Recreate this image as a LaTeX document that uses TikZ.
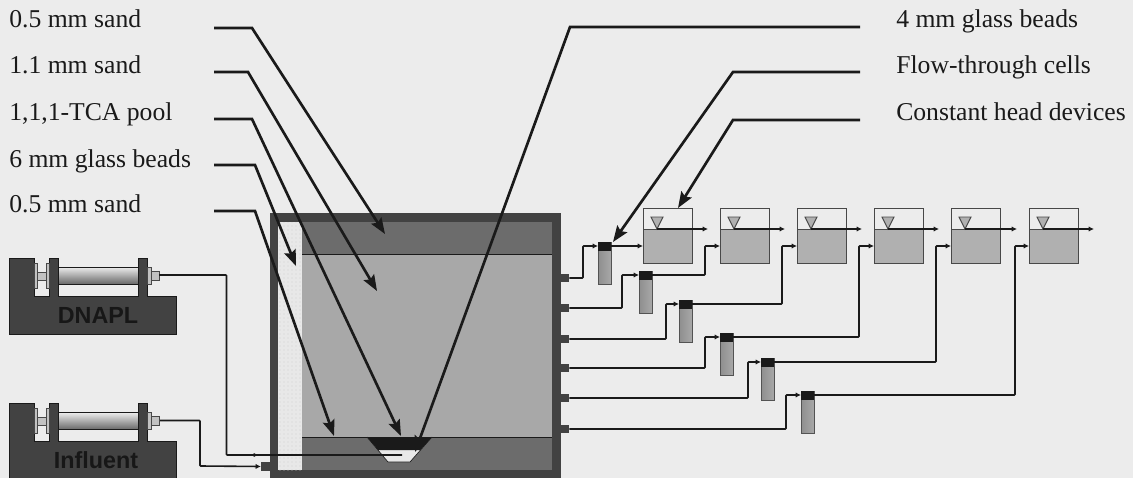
\documentclass[tikz,border=0pt]{standalone}
\usepackage{fontspec}
\setmainfont{Liberation Serif}
\newfontfamily\pumpfont{Liberation Sans}
\usetikzlibrary{arrows.meta,patterns}
\definecolor{paper}{HTML}{ECECEC}
\definecolor{wall}{HTML}{424242}
\definecolor{coarse}{HTML}{6C6C6C}
\definecolor{fine}{HTML}{A8A8A8}
\definecolor{beads}{HTML}{E8E8E8}
\definecolor{ink}{HTML}{1A1A1A}
\definecolor{water}{HTML}{B0B0B0}
\tikzset{
  x=0.75pt,y=-0.75pt,
  labeltext/.style={anchor=base west,inner sep=0pt,font=\fontsize{19.25pt}{21pt}\selectfont,text=ink},
  callout/.style={line width=2pt,draw=ink,-{Stealth[length=12pt,width=9pt,inset=2pt]}},
  pipe/.style={line width=1.2pt,draw=ink,rounded corners=0.5pt},
  pipearrow/.style={pipe,-{Latex[length=4pt,width=4pt]}},
  port/.style={draw=none,fill=wall},
  cellbox/.style={draw=ink!80,line width=0.7pt},
  pumpbody/.style={fill=wall,draw=ink,line width=0.7pt},
  pumplight/.style={fill=fine!70,draw=ink!80,line width=0.5pt},
  pumplabel/.style={font=\pumpfont\bfseries\fontsize{17.5pt}{19pt}\selectfont,text=ink!90!black,inner sep=0pt},
}
% \pumpshape{y offset}
\newcommand{\pumpshape}[1]{
  \begin{scope}[shift={(0,#1)}]
    \path[pumpbody] (9,258) -- (34,258) -- (34,296) -- (49,296) -- (49,258) -- (58,258) -- (58,296)
      -- (138,296) -- (138,258) -- (147,258) -- (147,296) -- (176,296) -- (176,334) -- (9,334) -- cycle;
    \path[pumplight] (34,263) rectangle (37,288);
    \path[pumplight] (37,272) rectangle (46,280);
    \path[pumplight] (46,263) rectangle (49,288);
    \path[top color=paper,bottom color=wall!80,draw=ink,line width=0.7pt] (58,267) rectangle (138,284);
    \path[pumplight] (147,267) rectangle (151,284);
    \path[pumplight] (151,271) rectangle (159,280);
  \end{scope}
}
% \flowcell{left x}{outlet arrow end x}{name}
\newcommand{\flowcell}[3]{
  \fill[water] (#1,229) rectangle ({#1+49},263);
  \draw[cellbox] (#1,208) rectangle ({#1+49},263);
  \draw[cellbox] (#1,229) -- ({#1+49},229);
  \draw[cellbox,fill=water] ({#1+8},217) -- ({#1+20},217) -- ({#1+14},229) -- cycle;
  \coordinate (#3in) at (#1,246);
  \coordinate (#3out) at ({#1+14},229);
  \coordinate (#3end) at (#2,229);
  \draw[pipearrow] (#3out) -- (#3end);
}
% \samplecol{left x}{cap top y}{bottom y}{name}
\newcommand{\samplecol}[4]{
  \path[left color=wall!60,right color=fine,draw=ink!75,line width=0.7pt] (#1,#2) rectangle ({#1+13},#3);
  \fill[ink] (#1,#2) rectangle ({#1+13},{#2+9});
  \coordinate (#4in) at (#1,{#2+4});
  \coordinate (#4out) at ({#1+13},{#2+4});
}
\begin{document}
\begin{tikzpicture}
\useasboundingbox (0,0) rectangle (1133,478);
\fill[paper] (0,0) rectangle (1133,478);
\begin{scope}
\clip (0,0) rectangle (1133,478);
% tank
\fill[wall] (270,213) rectangle (561,478);
\fill[fine] (278,222) rectangle (552,470);
\fill[beads] (278,222) rectangle (302,470);
\fill[pattern=dots,pattern color=black!18] (278,222) rectangle (302,470);
\fill[coarse] (302,222) rectangle (552,254);
\fill[coarse] (302,437) rectangle (552,470);
\draw[ink,line width=0.6pt] (302,254) -- (552,254);
\draw[ink,line width=0.6pt] (302,437) -- (552,437);
\fill[beads] (367,437) -- (432,437) -- (410,462) -- (388,462) -- cycle;
\draw[ink,line width=0.5pt] (367,437) -- (388,462) -- (410,462) -- (432,437);
\fill[ink] (367,437) -- (432,437) -- (420.5,450) -- (378,450) -- cycle;
% ports on the tank
\foreach \py/\pn in {278/1,308/2,339/3,368/4,398/5,429/6}
  \node[port,minimum width=6pt,minimum height=6.5pt,inner sep=0pt] (p\pn) at (565,\py) {};
\node[port,minimum width=6.5pt,minimum height=6.5pt,inner sep=0pt] (pin) at (265.5,466.5) {};
% pumps
\pumpshape{0}
\pumpshape{145.5}
\node[pumplabel] (dnapl) at (98,315) {DNAPL};
\node[pumplabel] (influent) at (96,460) {Influent};
\coordinate (dnout) at (159,275);
\coordinate (inout) at (160,420.5);
\coordinate (dnend) at (402,455);
\draw[pipe] (dnout) -- (226.5,275) -- (226.5,455) -- (dnend);
\draw[ink,fill=ink] (254,453.5) -- (257,455) -- (254,456.5) -- cycle;
\draw[pipearrow] (inout) -- (200,420.5) -- (200,466) -- (pin.west);
% flow-through cells
\flowcell{643}{708}{c1}
\flowcell{720}{785}{c2}
\flowcell{797}{862}{c3}
\flowcell{874}{939}{c4}
\flowcell{951}{1017}{c5}
\flowcell{1029}{1094}{c6}
% constant head devices
\samplecol{598}{242}{284}{s1}
\samplecol{639}{271}{313}{s2}
\samplecol{679}{300}{342}{s3}
\samplecol{720}{333}{375}{s4}
\samplecol{761}{358}{400}{s5}
\samplecol{801}{391}{433}{s6}
% pipes
\draw[pipearrow] (p1.east) -- (583,278) -- (583,246) -- (s1in);
\draw[pipearrow] (p2.east) -- (622,308) -- (622,275) -- (s2in);
\draw[pipearrow] (p3.east) -- (666,339) -- (666,304) -- (s3in);
\draw[pipearrow] (p4.east) -- (705,368) -- (705,337) -- (s4in);
\draw[pipearrow] (p5.east) -- (748,398) -- (748,362) -- (s5in);
\draw[pipearrow] (p6.east) -- (786,429) -- (786,395) -- (s6in);
\draw[pipearrow] (s1out) -- (c1in);
\draw[pipearrow] (s2out) -- (705,275) -- (705,246) -- (c2in);
\draw[pipearrow] (s3out) -- (782,304) -- (782,246) -- (c3in);
\draw[pipearrow] (s4out) -- (859,337) -- (859,246) -- (c4in);
\draw[pipearrow] (s5out) -- (936,362) -- (936,246) -- (c5in);
\draw[pipearrow] (s6out) -- (1015,395) -- (1015,246) -- (c6in);
% labels
\node[labeltext] (l1) at (9,28) {0.5 mm sand};
\node[labeltext] (l2) at (9,74) {1.1 mm sand};
\node[labeltext] (l3) at (9,120.5) {1,1,1-TCA pool};
\node[labeltext] (l4) at (9,167) {6 mm glass beads};
\node[labeltext] (l5) at (9,213) {0.5 mm sand};
\node[labeltext] (r1) at (896,28) {4 mm glass beads};
\node[labeltext] (r2) at (896,74) {Flow-through cells};
\node[labeltext] (r3) at (896,120.5) {Constant head devices};
% callouts
\coordinate (t1) at (385,234);
\coordinate (t2) at (377,291);
\coordinate (t3) at (401,436);
\coordinate (t4) at (296,266);
\coordinate (t5) at (334,436);
\coordinate (t6) at (415,452);
\coordinate (t7) at (613,242);
\coordinate (t8) at (678,208);
\draw[callout] (214,28) -- (252,28) -- (t1);
\draw[callout] (214,72) -- (248,72) -- (t2);
\draw[callout] (214,119) -- (252,119) -- (t3);
\draw[callout] (214,165) -- (255,165) -- (t4);
\draw[callout] (214,211) -- (255,211) -- (t5);
\draw[callout] (860,27) -- (570,27) -- (t6);
\draw[callout] (860,72) -- (733,72) -- (t7);
\draw[callout] (860,120) -- (733,120) -- (t8);
\end{scope}
\end{tikzpicture}
\end{document}
